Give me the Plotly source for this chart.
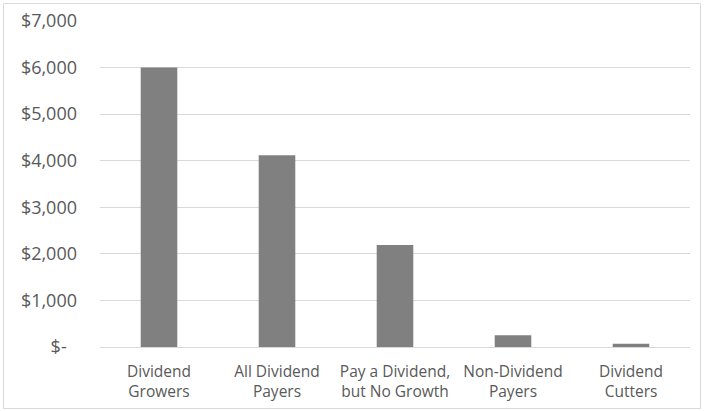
import plotly.graph_objects as go

categories = ["Dividend<br>Growers", "All Dividend<br>Payers", "Pay a Dividend,<br>but No Growth",
              "Non-Dividend<br>Payers", "Dividend<br>Cutters"]
values = [6000, 4120, 2190, 250, 70]
tick_vals = [0, 1000, 2000, 3000, 4000, 5000, 6000, 7000]
tick_text = ["$-\u2007", "$1,000", "$2,000", "$3,000", "$4,000", "$5,000", "$6,000", "$7,000"]

W, H = 704, 411
L, R, T, B = 100, 14, 21, 64
pw, ph = W - L - R, H - T - B

fig = go.Figure(go.Bar(x=categories, y=values, marker=dict(color="#808080", line=dict(width=0)), width=0.31))

def px_to_paper_x(p):
    return (p - L) / pw

def px_to_paper_y(p):
    return (H - B - p) / ph

fig.update_layout(
    width=W, height=H,
    margin=dict(l=L, r=R, t=T, b=B, autoexpand=False),
    paper_bgcolor="white", plot_bgcolor="white",
    font=dict(family="Open Sans", color="#595959"),
    showlegend=False,
    xaxis=dict(showgrid=False, showline=False, ticks="", tickfont=dict(size=15.5),
               ticklabelstandoff=13, automargin=False),
    yaxis=dict(range=[0, 7000], tickvals=tick_vals, ticktext=tick_text, showgrid=True,
               gridcolor="#d9d9d9", gridwidth=1, zeroline=True, zerolinecolor="#d9d9d9",
               zerolinewidth=1, showline=False, ticks="", ticklabelstandoff=22,
               tickfont=dict(size=18), automargin=False),
    shapes=[dict(type="rect", xref="paper", yref="paper",
                 x0=px_to_paper_x(3.5), x1=px_to_paper_x(700.5),
                 y0=px_to_paper_y(3.5), y1=px_to_paper_y(408.5),
                 line=dict(color="#d9d9d9", width=1))],
)

fig.write_html("out.html")
